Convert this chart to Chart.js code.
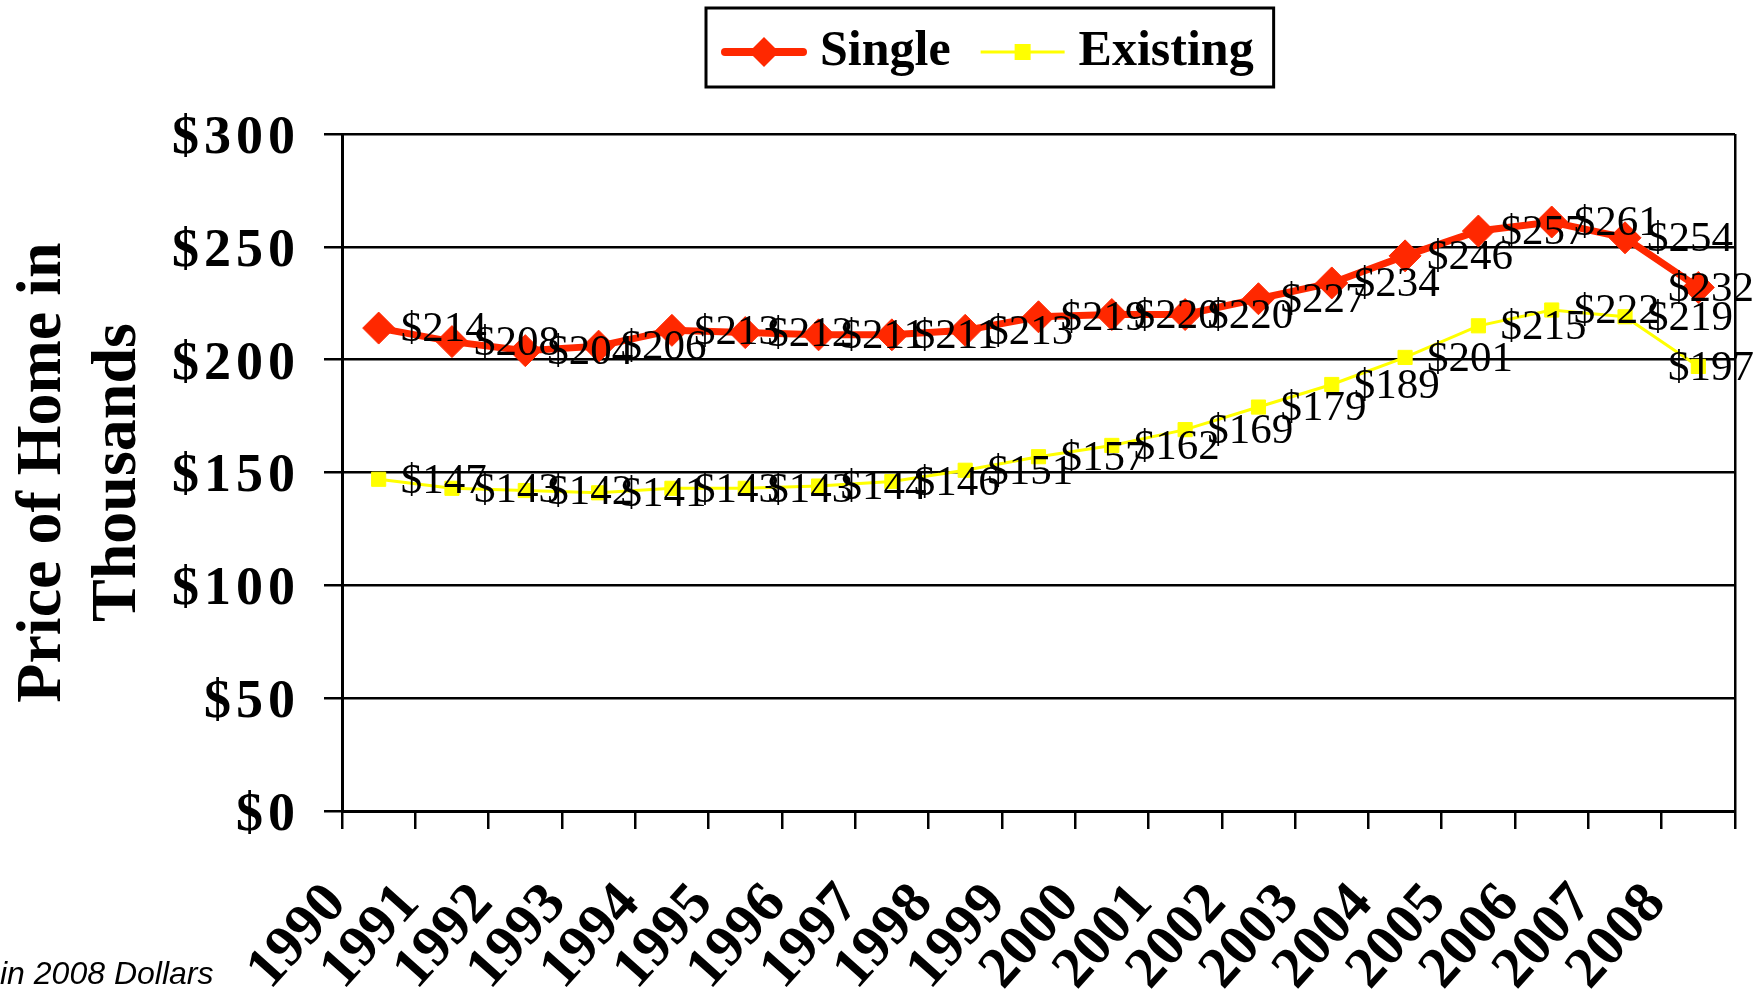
<!DOCTYPE html>
<html>
<head>
<meta charset="utf-8">
<title>Home Prices 1990-2008</title>
<script src="https://cdn.jsdelivr.net/npm/chart.js@4/dist/chart.umd.min.js"></script>
<style>
  html, body { margin: 0; padding: 0; background: #ffffff; }
  #wrap { width: 1762px; height: 994px; }
  canvas { display: block; }
</style>
</head>
<body>
<div id="wrap"><canvas id="chart" width="1762" height="994"></canvas></div>
<script>
// Median home prices, thousands of 2008 dollars
const years = ['1990', '1991', '1992', '1993', '1994', '1995', '1996', '1997', '1998', '1999',
               '2000', '2001', '2002', '2003', '2004', '2005', '2006', '2007', '2008'];
const singlePrices = [214, 208, 204, 206, 213, 212, 211, 211, 213, 219,
                      220, 220, 227, 234, 246, 257, 261, 254, 232];
const existingPrices = [147, 143, 142, 141, 143, 143, 144, 146, 151, 157,
                        162, 169, 179, 189, 201, 215, 222, 219, 197];
const priceTicks = [0, 50, 100, 150, 200, 250, 300];
const seriesNames = ['Single', 'Existing'];

const RED = '#FF2800';
const YELLOW = '#FFFF00';
const SERIF = '"Liberation Serif", "Times New Roman", serif';

const PLOT_LEFT = 342;
const PLOT_BOTTOM = 811;
const NOTE_LINE = 38.4;
const LEGEND_START_X = 704;
const SYMBOL_MARGIN = 29;

// Legend swatches: a line segment with the series marker on it
function legendSymbol(kind) {
  const vis = 86, W = SYMBOL_MARGIN + vis, H = 40;
  const c = document.createElement('canvas');
  c.width = W; c.height = H;
  const g = c.getContext('2d');
  const cy = H / 2, cx = SYMBOL_MARGIN + vis / 2;
  if (kind === 'single') {
    g.strokeStyle = RED; g.lineWidth = 8; g.lineCap = 'round';
    g.beginPath(); g.moveTo(SYMBOL_MARGIN + 4, cy); g.lineTo(W - 4, cy); g.stroke();
    g.fillStyle = RED;
    g.beginPath();
    g.moveTo(cx, cy - 15); g.lineTo(cx + 15, cy); g.lineTo(cx, cy + 15); g.lineTo(cx - 15, cy);
    g.closePath(); g.fill();
  } else {
    g.strokeStyle = YELLOW; g.lineWidth = 3;
    g.beginPath(); g.moveTo(SYMBOL_MARGIN + 1, cy); g.lineTo(W - 1, cy); g.stroke();
    g.fillStyle = YELLOW;
    g.fillRect(cx - 8, cy - 8, 16, 16);
  }
  return c;
}
const symbols = [legendSymbol('single'), legendSymbol('existing')];

// "$nnn" value labels placed to the right of every point
const valueLabels = {
  id: 'valueLabels',
  afterDatasetsDraw(chart) {
    const ctx = chart.ctx;
    ctx.save();
    ctx.font = '43px ' + SERIF;
    ctx.fillStyle = '#000';
    ctx.textAlign = 'left';
    ctx.textBaseline = 'middle';
    chart.data.datasets.forEach((ds, i) => {
      const meta = chart.getDatasetMeta(i);
      meta.data.forEach((pt, j) => {
        const text = '$' + ds.data[j];
        const w = ctx.measureText(text).width;
        const x = Math.min(pt.x + 22, chart.width - 8 - w);
        ctx.fillText(text, x, pt.y + 2);
      });
    });
    ctx.restore();
    // y tick labels (z = 1) are drawn next, with a little letter spacing
    ctx.letterSpacing = '5px';
  },
  afterDraw(chart) {
    chart.ctx.letterSpacing = '0px';
  }
};

// Legend placement and its framing box
const legendFrame = {
  id: 'legendFrame',
  afterLayout(chart) {
    const lg = chart.legend;
    if (!lg) return;
    const p = lg.options.labels.padding;
    const start = (lg.left + p + lg.right - lg.lineWidths[0]) / 2;
    const d = LEGEND_START_X - start;
    lg.left += d; lg.right += d;
  },
  afterDraw(chart) {
    const lg = chart.legend;
    if (!lg) return;
    const p = lg.options.labels.padding;
    const start = (lg.left + p + lg.right - lg.lineWidths[0]) / 2;
    const x0 = start + SYMBOL_MARGIN - 27;
    const x1 = start + lg.lineWidths[0] - p + 20;
    const ctx = chart.ctx;
    ctx.save();
    ctx.strokeStyle = '#000';
    ctx.lineWidth = 3;
    ctx.strokeRect(x0, lg.top - 7, x1 - x0, lg.bottom - lg.top + 7);
    ctx.restore();
  }
};

new Chart(document.getElementById('chart'), {
  type: 'line',
  data: {
    labels: years,
    datasets: [
      {
        label: seriesNames[0],
        data: singlePrices,
        borderColor: RED,
        backgroundColor: RED,
        borderWidth: 7,
        pointStyle: 'rectRot',
        pointRadius: 16,
        pointBorderWidth: 1,
        pointBackgroundColor: RED,
        pointBorderColor: RED,
        tension: 0
      },
      {
        label: seriesNames[1],
        data: existingPrices,
        borderColor: YELLOW,
        backgroundColor: YELLOW,
        borderWidth: 3,
        pointStyle: 'rect',
        pointRadius: 10,
        pointBorderWidth: 1,
        pointBackgroundColor: YELLOW,
        pointBorderColor: YELLOW,
        tension: 0
      }
    ]
  },
  options: {
    responsive: false,
    animation: false,
    devicePixelRatio: 1,
    layout: { padding: { top: 15, right: 27, bottom: 0, left: 0 } },
    plugins: {
      legend: {
        position: 'top',
        labels: {
          usePointStyle: true,
          pointStyleWidth: 62 + SYMBOL_MARGIN,
          padding: 12,
          color: '#000',
          font: { family: SERIF, weight: 'bold', size: 50 },
          generateLabels(chart) {
            const items = Chart.defaults.plugins.legend.labels.generateLabels(chart);
            items.forEach((it, i) => { it.pointStyle = symbols[i]; it.fontColor = '#000'; });
            return items;
          }
        }
      },
      title: {
        display: true,
        text: '',
        weight: 500,
        padding: 0,
        font: { size: 47, lineHeight: 1 }
      },
      // footnote in the bottom-left corner; it overlaps the x-axis band, so it takes no layout height
      subtitle: {
        display: true,
        position: 'bottom',
        align: 'start',
        text: 'in 2008 Dollars',
        color: '#000',
        padding: { top: -NOTE_LINE, bottom: 0 },
        font: { family: '"Liberation Sans", Arial, sans-serif', style: 'italic', weight: 'normal', size: 32, lineHeight: 1.2 }
      },
      tooltip: { enabled: false }
    },
    scales: {
      x: {
        type: 'category',
        offset: true,
        grid: {
          offset: true,
          drawOnChartArea: true,
          color: c => (c.type === 'tick' ? 'rgba(0,0,0,0)' : '#000'),
          tickColor: '#000',
          lineWidth: 2.5,
          tickWidth: 2.5,
          tickLength: 18
        },
        border: { display: true, color: '#000', width: 3 },
        ticks: {
          autoSkip: false,
          minRotation: 48,
          maxRotation: 48,
          padding: 42,
          labelOffset: -42,
          color: '#000',
          font: { family: SERIF, weight: 'bold', size: 58 }
        },
        afterFit(scale) {
          scale.height = scale.chart.height - PLOT_BOTTOM;
          // rotated year labels sit in the axis band; they need no side margin
          scale.paddingLeft = 0;
          scale.paddingRight = 0;
        }
      },
      y: {
        min: 0,
        max: 300,
        afterBuildTicks(scale) { scale.ticks = priceTicks.map(v => ({ value: v })); },
        grid: { color: '#000', lineWidth: 2.5, tickLength: 18, drawTicks: true },
        border: { display: true, color: '#000', width: 3 },
        ticks: {
          z: 1,
          padding: 24,
          labelOffset: 5,
          color: '#000',
          font: { family: SERIF, weight: 'bold', size: 54 },
          callback: v => '$' + v
        },
        title: {
          display: true,
          text: ['Price of Home in', 'Thousands'],
          color: '#000',
          font: { family: SERIF, weight: 'bold', size: 64, lineHeight: 1.17 },
          padding: { top: 6, bottom: 0 }
        },
        afterFit(scale) { scale.width = PLOT_LEFT; }
      }
    }
  },
  plugins: [valueLabels, legendFrame]
});
</script>
</body>
</html>
